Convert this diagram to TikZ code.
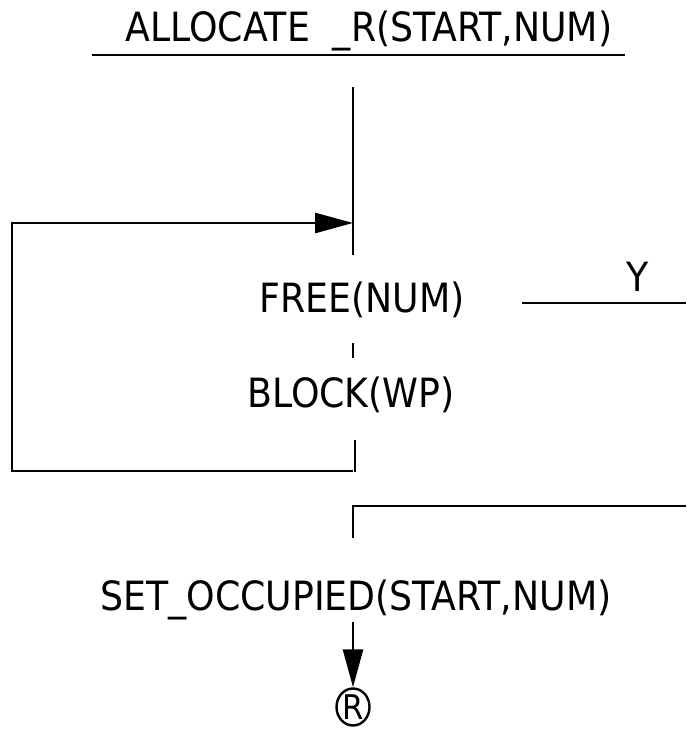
\documentclass[tikz,border=0pt]{standalone}
\usepackage{fontspec}
\setmainfont{DejaVu Sans Condensed}
\usetikzlibrary{arrows.meta,shapes.geometric}
\tikzset{
  lbl/.style={inner sep=0pt, font=\fontsize{40.3}{40.3}\selectfont},
  ln/.style={line width=2.7pt},
  arr/.style={line width=2.7pt, -{Triangle[length=38pt,width=20pt]}},
}
\begin{document}
\begin{tikzpicture}[x=1pt,y=-1pt]
\useasboundingbox (0,0) rectangle (686,735);
\node[lbl] (title) at (369,31) {ALLOCATE\ \ \_R(START,NUM)};
\coordinate (ulL) at (92,55);
\coordinate (ulR) at (625,55);
\draw[ln] (ulL) -- (ulR);
\coordinate (topA) at (353,87);
\coordinate (topB) at (353,255);
\draw[ln] (topA) -- (topB);
\node[lbl] (free) at (362,300) {FREE(NUM)};
\coordinate (dA) at (353,343);
\coordinate (dB) at (353,358);
\draw[ln] (dA) -- (dB);
\node[lbl] (block) at (351,395) {BLOCK(WP)};
\coordinate (sA) at (355,440);
\coordinate (sB) at (355,472);
\coordinate (loopBR) at (353,471);
\coordinate (loopBL) at (12,471);
\coordinate (loopTL) at (12,223);
\coordinate (loopTR) at (353,223);
\draw[ln] (sA) -- (sB);
\draw[arr] (loopBR) -- (loopBL) -- (loopTL) -- (loopTR);
\coordinate (yA) at (522,303);
\coordinate (yB) at (686,303);
\draw[ln] (yA) -- (yB);
\node[lbl] (y) at (638,277) {Y};
\coordinate (rA) at (686,506);
\coordinate (rC) at (353,506);
\coordinate (rB) at (353,538);
\draw[ln] (rA) -- (rC) -- (rB);
\node[lbl] (set) at (356,600) {SET\_OCCUPIED(START,NUM)};
\node[draw, ellipse, line width=2.4pt, minimum width=33pt, minimum height=37pt, inner sep=0pt, font=\fontsize{34}{34}\selectfont] (r) at (353,707) {R};
\coordinate (aA) at (353,622);
\draw[arr] (aA) -- (r.north);
\end{tikzpicture}
\end{document}
